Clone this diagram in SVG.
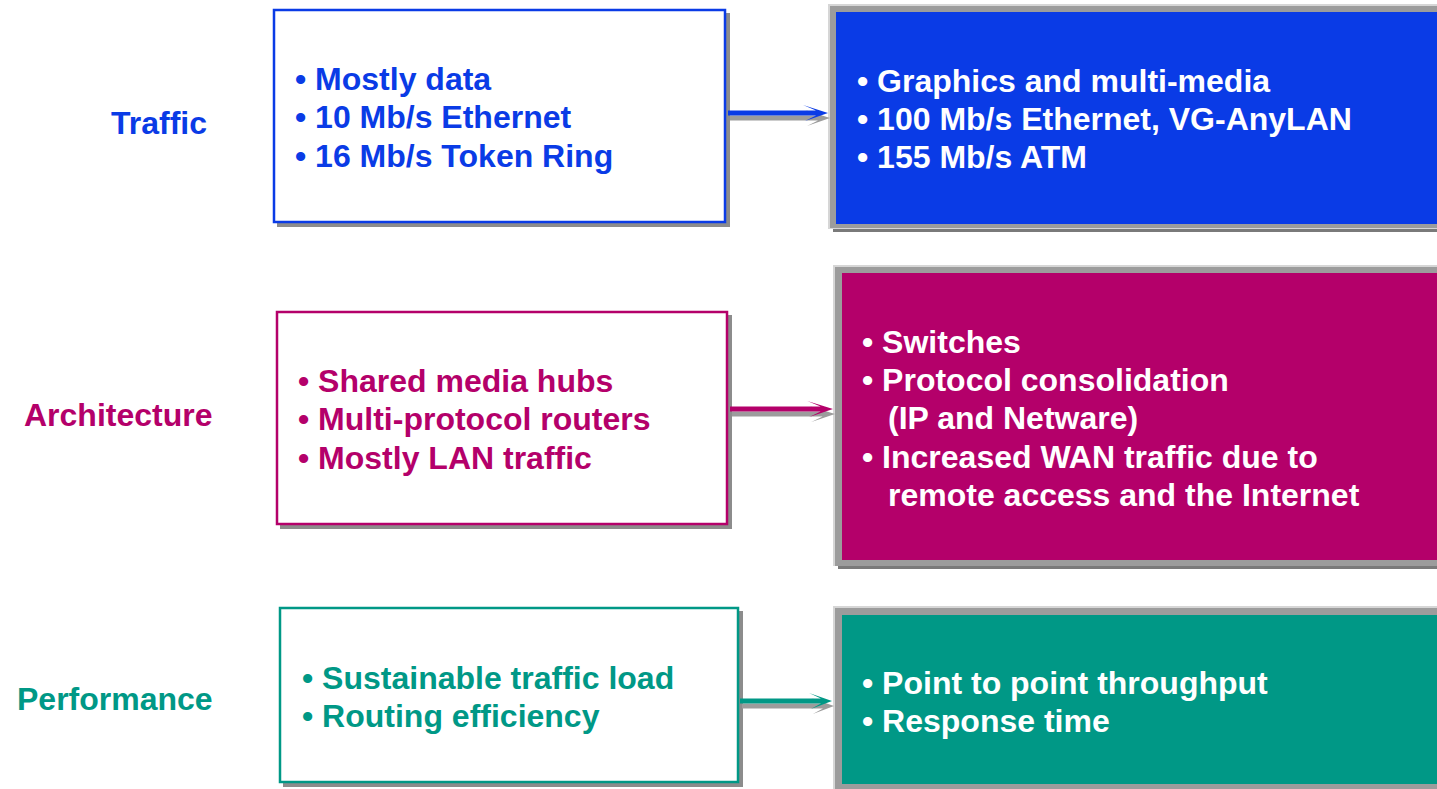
<svg xmlns="http://www.w3.org/2000/svg" width="1437" height="789" viewBox="0 0 1437 789">
<defs>
<style>
text{font-family:"Liberation Sans",Arial,sans-serif;font-weight:bold;font-size:32px}
.b{fill:#0a3be6}.m{fill:#b4006a}.t{fill:#009886}.w{fill:#ffffff}
.sh{fill:#8c8c8c}.lg{fill:#d6d6d6}.dg{fill:#9c9c9c}
</style>
<path id="arr" d="M0,-2.5 H88 L75,-8 L100,0 L77,8 L88,2.5 H0 Z"/>
</defs>
<rect width="1437" height="789" fill="#ffffff"/>
<g id="labels">
<text x="111" y="134" class="b">Traffic</text>
<text x="24" y="426" class="m">Architecture</text>
<text x="17" y="710" class="t">Performance</text>
</g>
<g id="left-traffic">
<rect x="277" y="13" width="453" height="214" class="sh"/>
<rect x="274" y="10" width="451" height="212" fill="#fff" stroke="#0a3be6" stroke-width="2.5"/>
<text x="295" y="90" class="b">• Mostly data</text>
<text x="295" y="128" class="b">• 10 Mb/s Ethernet</text>
<text x="295" y="167" class="b">• 16 Mb/s Token Ring</text>
</g>
<g id="left-arch">
<rect x="280" y="315" width="452" height="214" class="sh"/>
<rect x="277" y="312" width="450" height="212" fill="#fff" stroke="#b4006a" stroke-width="2.5"/>
<text x="298" y="392" class="m">• Shared media hubs</text>
<text x="298" y="430" class="m">• Multi-protocol routers</text>
<text x="298" y="469" class="m">• Mostly LAN traffic</text>
</g>
<g id="left-perf">
<rect x="283" y="611" width="460" height="176" class="sh"/>
<rect x="280" y="608" width="458" height="174" fill="#fff" stroke="#009886" stroke-width="2.5"/>
<text x="302" y="689" class="t">• Sustainable traffic load</text>
<text x="302" y="727" class="t">• Routing efficiency</text>
</g>
<g id="right-traffic">
<rect x="833" y="9" width="620" height="223" fill="#7a7a7a"/>
<rect x="828" y="4" width="620" height="225" class="lg"/>
<rect x="830" y="6" width="620" height="222" class="dg"/>
<rect x="836" y="12" width="620" height="212" fill="#0a3be6"/>
<text x="857" y="92" class="w">• Graphics and multi-media</text>
<text x="857" y="130" class="w">• 100 Mb/s Ethernet, VG-AnyLAN</text>
<text x="857" y="168" class="w">• 155 Mb/s ATM</text>
</g>
<g id="right-arch">
<rect x="838" y="270" width="620" height="299" fill="#7a7a7a"/>
<rect x="833" y="265" width="620" height="301" class="lg"/>
<rect x="835" y="267" width="620" height="299" class="dg"/>
<rect x="842" y="273" width="620" height="287" fill="#b4006a"/>
<text x="862" y="353" class="w">• Switches</text>
<text x="862" y="391" class="w">• Protocol consolidation</text>
<text x="888" y="429" class="w">(IP and Netware)</text>
<text x="862" y="468" class="w">• Increased WAN traffic due to</text>
<text x="888" y="506" class="w">remote access and the Internet</text>
</g>
<g id="right-perf">
<rect x="838" y="611" width="620" height="190" fill="#7a7a7a"/>
<rect x="833" y="606" width="620" height="190" class="lg"/>
<rect x="835" y="608" width="620" height="190" class="dg"/>
<rect x="842" y="615" width="620" height="169" fill="#009886"/>
<text x="862" y="694" class="w">• Point to point throughput</text>
<text x="862" y="732" class="w">• Response time</text>
</g>
<g id="connectors">
<use href="#arr" transform="translate(730,118)" class="dg"/>
<use href="#arr" transform="translate(728,113)" fill="#0a3be6"/>
<use href="#arr" transform="translate(732,414) scale(1.03,1)" class="dg"/>
<use href="#arr" transform="translate(730,409) scale(1.03,1)" fill="#b4006a"/>
<use href="#arr" transform="translate(742,706) scale(0.92,1)" class="dg"/>
<use href="#arr" transform="translate(740,701) scale(0.92,1)" fill="#009886"/>
</g>
</svg>
